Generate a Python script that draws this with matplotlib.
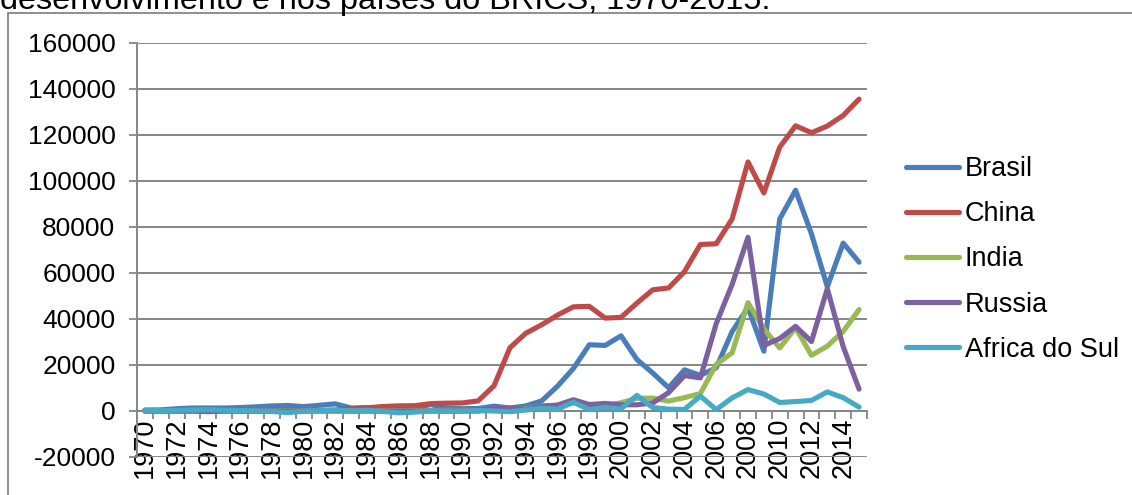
import numpy as np
import matplotlib
matplotlib.use("Agg")
import matplotlib.pyplot as plt
from matplotlib.patches import Rectangle

plt.rcParams['font.family'] = ['Liberation Sans', 'DejaVu Sans']

years = list(range(1970, 2016))

brasil = [400, 500, 1000, 1300, 1300, 1300, 1500, 1800, 2200, 2400,
          1900, 2500, 3100, 1300, 1500, 1400, 300, 1200, 2800, 1300,
          1000, 1100, 2100, 1300, 2200, 4400, 10800, 18500, 28800, 28500,
          32700, 22400, 16500, 10100, 17900, 15500, 18800, 34500, 45000, 26000,
          83500, 96000, 77000, 54000, 73000, 64700]

china = [0, 0, 0, 0, 0, 0, 0, 0, 0, 0,
         60, 270, 430, 900, 1400, 1950, 2240, 2300, 3200, 3400,
         3500, 4400, 11000, 27500, 33800, 37500, 41700, 45300, 45500, 40400,
         40700, 46900, 52700, 53500, 60600, 72400, 72700, 83500, 108300, 94800,
         114700, 124000, 121000, 123900, 128500, 135600]

india = [50, 50, 30, 0, 60, 80, 0, 20, 0, 50,
         80, 90, 70, 6, 20, 100, 120, 210, 90, 250,
         240, 70, 280, 550, 970, 2100, 2400, 3600, 2600, 2200,
         3600, 5500, 5600, 4300, 5800, 7600, 20300, 25300, 47100, 35700,
         27400, 36200, 24200, 28200, 34600, 44100]

russia = [0, 0, 0, 0, -300, 0, 0, 0, 0, 0,
          0, 0, 0, 0, 0, 0, 0, 0, 0, 0,
          0, 0, 1200, 1200, 700, 2100, 2600, 4900, 2800, 3300,
          2700, 2700, 3500, 8000, 15400, 14400, 38000, 55000, 75500, 28500,
          31500, 36800, 30200, 53200, 28000, 9500]

africa_sul = [300, 200, 300, 400, 600, 300, 200, 0, -200, -700,
              -100, 100, 400, 100, 300, -200, -800, -500, 100, -200,
              -100, 200, 0, -300, 400, 1200, 800, 3800, 600, 1500,
              1000, 6800, 1500, 800, 700, 6500, 600, 5700, 9300, 7400,
              3700, 4100, 4600, 8300, 5800, 1700]

series = [("Brasil", brasil, "#4A7EBB"),
          ("China", china, "#BE4B48"),
          ("India", india, "#98B954"),
          ("Russia", russia, "#7D60A0"),
          ("Africa do Sul", africa_sul, "#46AAC5")]

yticks = list(range(-20000, 160001, 20000))
title_text = "desenvolvimento e nos países do BRICS, 1970-2015."

W, H = 1132, 495
fig = plt.figure(figsize=(W / 100, H / 100), dpi=100)

grid_c = "#868686"
fs = 19.5

# chart area border
fig.patches.append(Rectangle((7.5 / W, -0.1), 1.2, 1 - 13 / H + 0.1,
                             transform=fig.transFigure, fill=False,
                             edgecolor=grid_c, lw=1.3, zorder=0))

# caption running off the top of the page
fig.text(0.0, 1 - 9 / H, title_text, fontsize=23.3, ha="left",
         va="baseline", color="black")

ax = fig.add_axes([137 / W, 1 - 457 / H, (867 - 137) / W, (457 - 43) / H])
x = np.arange(len(years))

for name, vals, col in series:
    ax.plot(x, vals, color=col, lw=3.7, label=name,
            solid_joinstyle="round", solid_capstyle="round", zorder=3)

ax.set_xlim(-0.5, len(years) - 0.5)
ax.set_ylim(-20000, 160000)

ax.set_yticks(yticks)
ax.set_yticklabels([str(v) for v in yticks])
ax.yaxis.grid(True, color=grid_c, lw=1.4)
ax.set_axisbelow(True)

for side in ["top", "right"]:
    ax.spines[side].set_visible(False)
ax.spines["left"].set_color(grid_c)
ax.spines["left"].set_linewidth(1.4)
ax.spines["bottom"].set_position(("data", 0))
ax.spines["bottom"].set_color(grid_c)
ax.spines["bottom"].set_linewidth(1.4)
ax.spines["bottom"].set_zorder(2.5)

ax.tick_params(axis="y", direction="out", length=5.5, width=1.3,
               color=grid_c, labelsize=19, pad=10)

ax.set_xticks(x[::2])
ax.set_xticklabels([str(y) for y in years[::2]], rotation=90)
ax.set_xticks(np.arange(len(years) + 1) - 0.5, minor=True)
ax.tick_params(axis="x", which="major", length=0, labelsize=fs, pad=5)
ax.tick_params(axis="x", which="minor", direction="out", length=5.5,
               width=1.3, color=grid_c)

leg = ax.legend(loc="upper left", bbox_to_anchor=(906 / W, 1 - 156 / H),
                bbox_transform=fig.transFigure, frameon=False, fontsize=fs,
                handlelength=1.95, handletextpad=0.22, labelspacing=0.71,
                borderpad=0, borderaxespad=0)
for ln in leg.get_lines():
    ln.set_linewidth(3.7)

fig.savefig("out.png", dpi=100)
